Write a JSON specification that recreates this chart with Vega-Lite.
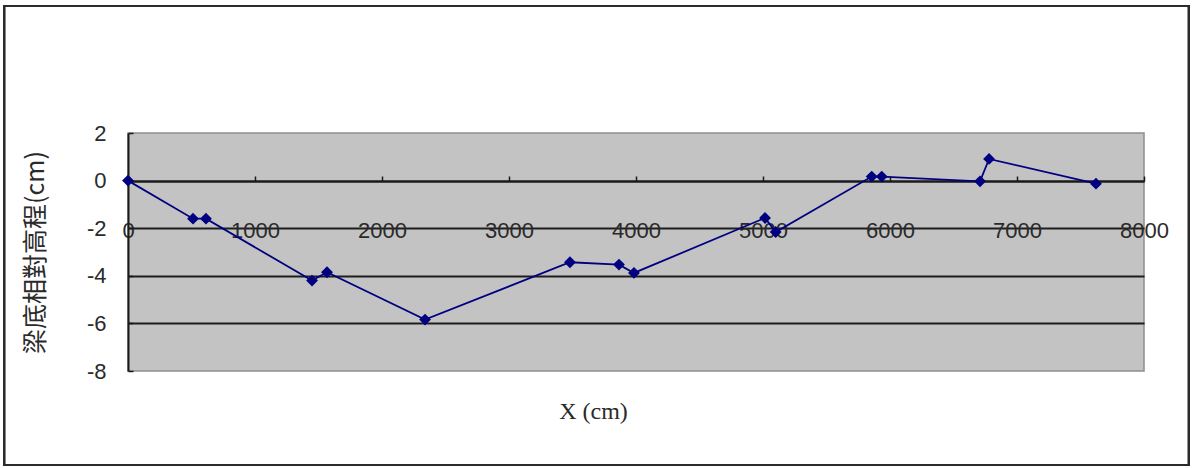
{
  "$schema": "https://vega.github.io/schema/vega-lite/v6.json",
  "width": 1016,
  "height": 238,
  "autosize": {"type": "none"},
  "padding": {"left": 128, "top": 133, "right": 49, "bottom": 97},
  "background": "white",
  "config": {
    "view": {"fill": "#c3c3c3", "stroke": "#8f8f8f", "strokeWidth": 1.5},
    "axis": {
      "labelFont": "Liberation Sans",
      "labelFontSize": 22,
      "labelColor": "#2a2a2a",
      "titleColor": "#2a2a2a",
      "domainColor": "#1a1a1a",
      "domainWidth": 2,
      "tickColor": "#1a1a1a",
      "tickWidth": 1.5
    }
  },
  "data": {
    "values": [
      {"x": 0, "h": 0},
      {"x": 512, "h": -1.6},
      {"x": 614, "h": -1.6},
      {"x": 1449, "h": -4.2},
      {"x": 1567, "h": -3.85},
      {"x": 2339, "h": -5.84},
      {"x": 3480, "h": -3.43},
      {"x": 3866, "h": -3.53},
      {"x": 3984, "h": -3.88},
      {"x": 5016, "h": -1.57},
      {"x": 5100, "h": -2.16},
      {"x": 5856, "h": 0.17},
      {"x": 5935, "h": 0.17},
      {"x": 6709, "h": -0.03},
      {"x": 6780, "h": 0.91},
      {"x": 7622, "h": -0.13}
    ]
  },
  "encoding": {
    "x": {
      "field": "x",
      "type": "quantitative",
      "scale": {"domain": [0, 8000], "nice": false, "zero": false},
      "axis": {
        "orient": "bottom",
        "offset": -190,
        "values": [0, 1000, 2000, 3000, 4000, 5000, 6000, 7000, 8000],
        "labelExpr": "'' + datum.value",
        "grid": false,
        "tickSize": -5,
        "labelPadding": 54,
        "labelBaseline": "middle",
        "labelFlush": false,
        "labelOverlap": false,
        "title": "X (cm)",
        "titleFont": "Liberation Serif",
        "titleFontSize": 24,
        "titleFontWeight": "normal",
        "titleBaseline": "middle",
        "titleAlign": "center",
        "titleX": 465,
        "titleY": 230
      }
    },
    "y": {
      "field": "h",
      "type": "quantitative",
      "scale": {"domain": [-8, 2], "nice": false, "zero": false},
      "axis": {
        "values": [-8, -6, -4, -2, 0, 2],
        "labelExpr": "'' + datum.value",
        "grid": true,
        "gridColor": "#1e1e1e",
        "gridWidth": 2,
        "gridOpacity": {"condition": {"test": "datum.value > -7 && datum.value < 1", "value": 1}, "value": 0},
        "tickSize": -5,
        "labelPadding": 27,
        "labelFlush": false,
        "labelOverlap": false,
        "title": "梁底相對高程(cm)",
        "titleFont": "Noto Sans CJK TC",
        "titleFontSize": 25,
        "titleFontWeight": "normal",
        "titleAngle": -90,
        "titleAlign": "center",
        "titleBaseline": "middle",
        "titleX": -93,
        "titleY": 119
      }
    }
  },
  "layer": [
    {
      "mark": {"type": "line", "color": "#000080", "strokeWidth": 1.8},
      "encoding": {"order": {"field": "x", "type": "quantitative"}}
    },
    {
      "mark": {"type": "point", "shape": "diamond", "filled": true, "color": "#000080", "opacity": 1, "size": 140}
    },
    {
      "mark": {"type": "rect", "fill": null, "stroke": "#2b2b2b", "strokeWidth": 2, "clip": false},
      "encoding": {
        "x": {"datum": -976},
        "x2": {"datum": 8354},
        "y": {"datum": 7.34},
        "y2": {"datum": -11.95}
      }
    }
  ]
}
